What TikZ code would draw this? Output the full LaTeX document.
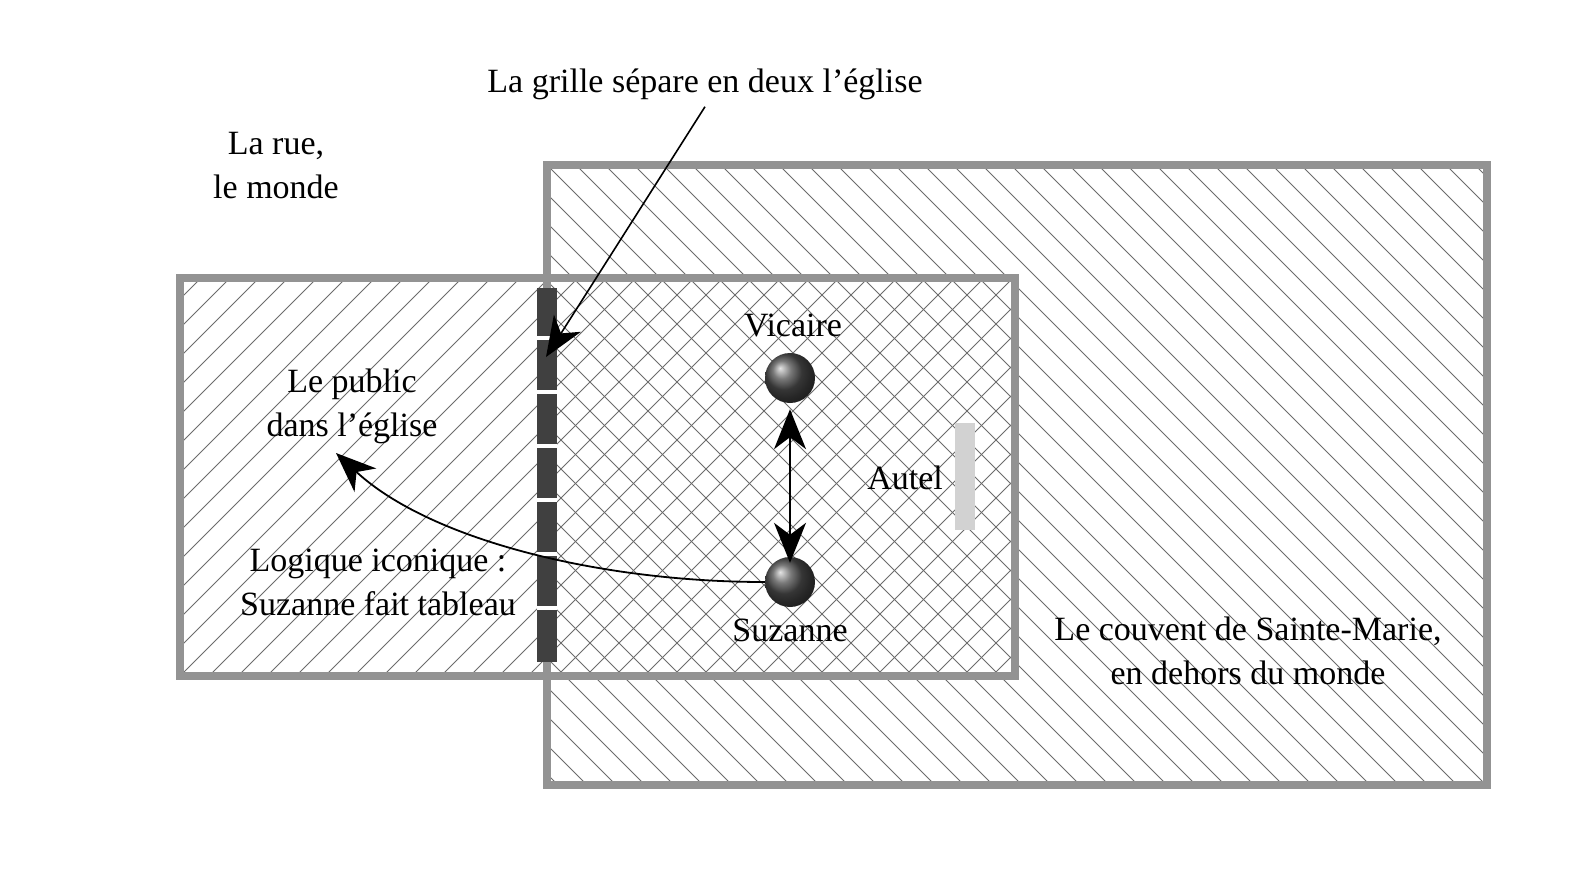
\documentclass[tikz,border=0pt]{standalone}
\usepackage{fontspec}
\setmainfont{Liberation Serif}
\usetikzlibrary{arrows.meta}
\begin{document}
\begin{tikzpicture}[x=1pt,y=-1pt,
  lbl/.style={font=\fontsize{34}{44}\selectfont,align=center,inner sep=1pt},
  hatch/.style={gray!85!black,line width=0.9pt},
  frame/.style={draw=gray!85,line width=8pt},
  ball/.style={circle,minimum size=50pt,inner sep=0pt,ball color=gray!60!black,shading=ball},
  tip/.style={-{Stealth[length=40pt,width=32pt,inset=12pt]},line width=1.6pt}]
\useasboundingbox (0,0) rectangle (1588,871);
\fill[white] (0,0) rectangle (1588,871);
% hatching
\begin{scope}
\clip (180,278) rectangle (1015,676);
\foreach \i in {-30,...,45} \draw[hatch] (180+\i*29,676) -- ++(400,-400);
\end{scope}
\begin{scope}
\clip (547,165) rectangle (1487,785);
\foreach \i in {-30,...,50} \draw[hatch] (547+\i*29,165) -- ++(650,650);
\end{scope}
\draw[frame] (180,278) rectangle (1015,676);
\draw[frame] (547,165) rectangle (1487,785);
% grille
\fill[black!75] (537,288) rectangle (557,662);
\foreach \y in {338,392,446,500,554,608} \fill[white] (537,\y-2) rectangle (557,\y+2);
% autel
\fill[gray!35] (955,423) rectangle (975,530);
% nodes
\node[ball] (vic) at (790,378) {};
\node[ball] (suz) at (790,582) {};
\node[lbl,anchor=south] (vict) at (793,338) {Vicaire};
\node[lbl,anchor=north] (suzt) at (790,618) {Suzanne};
\node[lbl,anchor=east] (autel) at (944,478) {Autel};
\node[lbl] (grille) at (705,84) {La grille sépare en deux l’église};
\node[lbl] (rue) at (276,166) {La rue,\\le monde};
\node[lbl] (public) at (352,406) {Le public\\dans l’église};
\node[lbl] (logique) at (378,582) {Logique iconique :\\Suzanne fait tableau};
\node[lbl] (couvent) at (1248,651) {Le couvent de Sainte-Marie,\\en dehors du monde};
\coordinate (gtip) at (546,357);
\coordinate (ptip) at (336,453);
% arrows
\draw[tip] (grille.south) ++(0,6) -- (gtip);
\draw[tip,{Stealth[length=40pt,width=32pt,inset=12pt]}-{Stealth[length=40pt,width=32pt,inset=12pt]}] (vic.south) ++(0,6) -- ([yshift=-6pt]suz.north);
\draw[tip,line width=1.8pt] (suz.west) .. controls (600,582) and (430,540) .. (ptip);
\end{tikzpicture}
\end{document}
